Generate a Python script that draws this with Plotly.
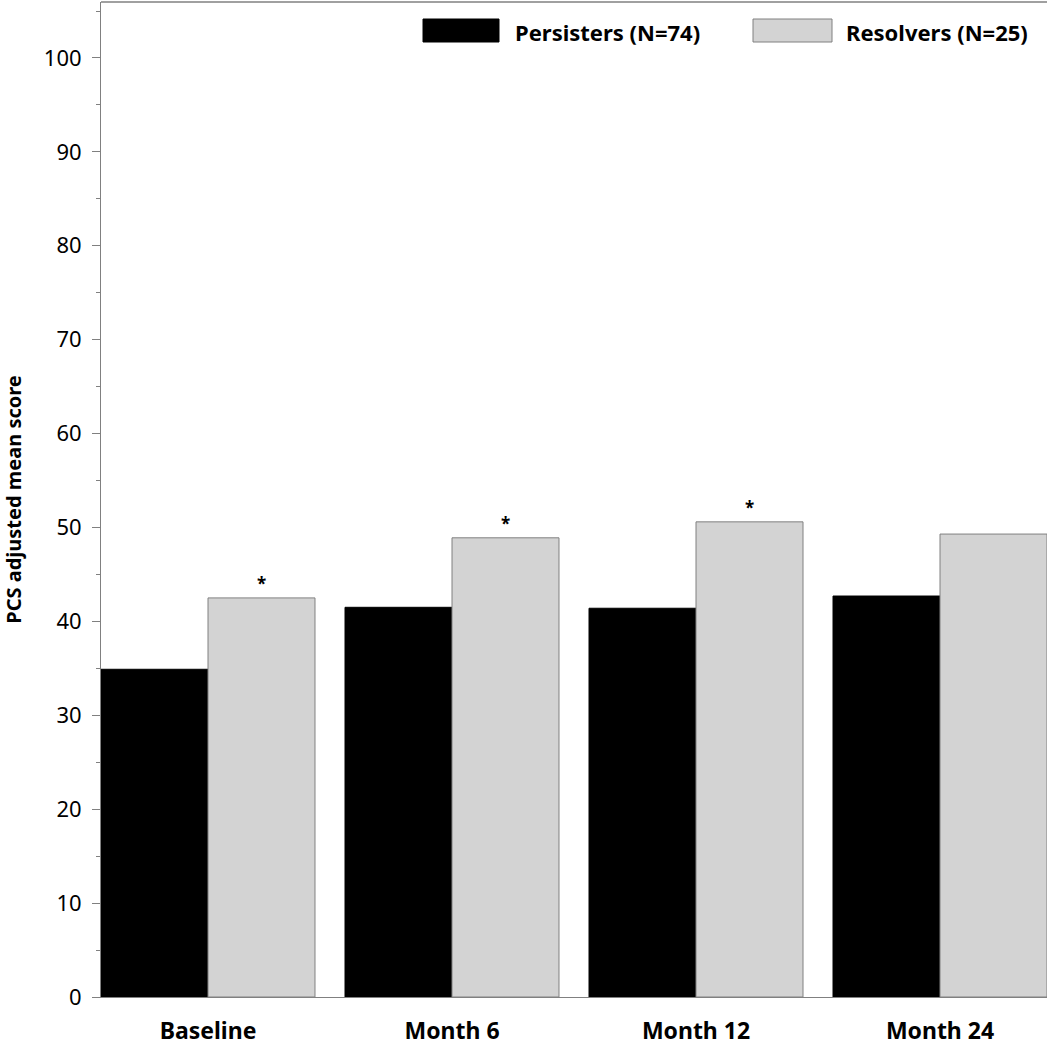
import plotly.graph_objects as go

categories = ["Baseline", "Month 6", "Month 12", "Month 24"]
persisters = [34.9, 41.5, 41.4, 42.7]
resolvers = [42.5, 48.9, 50.6, 49.3]
resolver_sig = ["*", "*", "*", ""]
legend_names = ["Persisters (N=74)", "Resolvers (N=25)"]
y_ticks = [0, 10, 20, 30, 40, 50, 60, 70, 80, 90, 100]

FONT = "Noto Sans"
AXIS_GREY = "#808080"

fig = go.Figure()
fig.add_trace(go.Bar(
    x=categories, y=persisters, name=legend_names[0],
    marker=dict(color="black", line=dict(color="black", width=1)),
    showlegend=False,
))
fig.add_trace(go.Bar(
    x=categories, y=resolvers, name=legend_names[1],
    marker=dict(color="#d3d3d3", line=dict(color=AXIS_GREY, width=1)),
    text=["<b>" + s + "</b>" if s else "" for s in resolver_sig],
    textposition="outside",
    textfont=dict(family=FONT, size=17, color="black"),
    cliponaxis=False, showlegend=False,
))

# legend drawn manually (large swatches as in the reference)
TOP = 2
PH = 997 - TOP
fig.add_shape(type="rect", xref="paper", yref="paper",
              x0=(423 - 101) / 946, x1=(499 - 101) / 946,
              y0=1 - (42 - TOP) / PH, y1=1 - (19 - TOP) / PH,
              fillcolor="black", line=dict(color="black", width=1))
fig.add_shape(type="rect", xref="paper", yref="paper",
              x0=(753 - 101) / 946, x1=(832 - 101) / 946,
              y0=1 - (42 - TOP) / PH, y1=1 - (19 - TOP) / PH,
              fillcolor="#d3d3d3", line=dict(color=AXIS_GREY, width=1))
fig.add_annotation(xref="paper", yref="paper", x=(513 - 101) / 946, y=1 - (32 - TOP) / PH,
                   xanchor="left", yanchor="middle", showarrow=False,
                   text="<b>" + legend_names[0] + "</b>",
                   font=dict(family=FONT, size=22, color="black"))
fig.add_annotation(xref="paper", yref="paper", x=(844 - 101) / 946, y=1 - (32 - TOP) / PH,
                   xanchor="left", yanchor="middle", showarrow=False,
                   text="<b>" + legend_names[1] + "</b>",
                   font=dict(family=FONT, size=22, color="black"))
# top frame line
fig.add_shape(type="line", xref="paper", yref="paper", x0=0, x1=1, y0=1, y1=1,
              line=dict(color=AXIS_GREY, width=1.5))

fig.update_layout(
    width=1047, height=1050,
    margin=dict(l=101, r=0, t=TOP, b=53),
    plot_bgcolor="white", paper_bgcolor="white",
    barmode="group", bargap=0.123, bargroupgap=0,
    font=dict(family=FONT, color="black"),
)
fig.update_xaxes(
    range=[-0.4385, 3.4385],
    showline=True, linecolor=AXIS_GREY, linewidth=1,
    ticks="", tickfont=dict(family=FONT, size=23, color="black"),
    tickvals=categories, ticktext=["<b>" + c + "</b>" for c in categories],
    ticklabelstandoff=13,
    showgrid=False, zeroline=False,
)
fig.update_yaxes(
    range=[0, 105.96],
    tickvals=y_ticks,
    showline=True, linecolor=AXIS_GREY, linewidth=1,
    ticks="outside", ticklen=8, tickcolor=AXIS_GREY, tickwidth=1,
    minor=dict(ticks="outside", ticklen=4, dtick=5, tickcolor=AXIS_GREY, tickwidth=1),
    tickfont=dict(family=FONT, size=22, color="black"),
    ticklabelstandoff=6,
    showgrid=False, zeroline=False,
    title=dict(text="<b>PCS adjusted mean score</b>",
               font=dict(family=FONT, size=20, color="black"), standoff=22),
)

fig.write_html("out.html", config={"displayModeBar": False},
               post_script="document.body.style.margin='0';document.body.style.overflow='hidden';")
